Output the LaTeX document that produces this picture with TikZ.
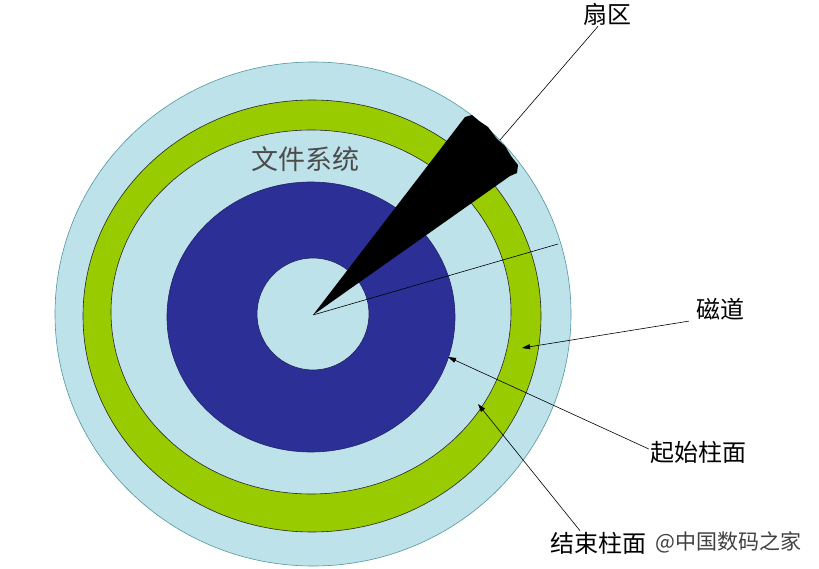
\documentclass[tikz,border=0pt]{standalone}
\usepackage{fontspec}
\newfontfamily\cjk{Noto Sans CJK SC}
\usetikzlibrary{arrows.meta}
\definecolor{disklight}{RGB}{190,226,234}
\definecolor{diskgreen}{RGB}{153,204,0}
\definecolor{diskblue}{RGB}{44,48,150}
\definecolor{diskedge}{RGB}{80,150,160}
\colorlet{labelgrey}{white!25!black}

\begin{document}
\begin{tikzpicture}[
    x=1pt, y=-1pt,
    every node/.style={font=\cjk\fontsize{24}{28}\selectfont, inner sep=1pt},
    ring/.style={draw=black!85, line width=0.6pt},
    c/.style={draw=black, line width=0.6pt},
    a/.style={c, -{Triangle[length=8pt,width=5pt]}}
]
\useasboundingbox (0,0) rectangle (819,569);

\coordinate (hub) at (313,315);

% platter rings
\filldraw [fill=disklight, draw=diskedge, line width=0.6pt]
    (313,314) ellipse [x radius=258, y radius=252];
\filldraw [fill=diskgreen, ring] (312,316) ellipse [x radius=229, y radius=216];
\filldraw [fill=disklight, ring] (311,312) ellipse [x radius=200, y radius=182];
\filldraw [fill=diskblue, draw=diskblue!70!black, line width=0.6pt]
    (311,317) ellipse [x radius=144, y radius=135];
\filldraw [fill=disklight, draw=diskblue!60!black, line width=0.6pt]
    (313,314) ellipse [x radius=56, y radius=56];

% sector wedge
\fill [black] (hub) -- (465,117) -- (472,115) -- (479,121) -- (488,127)
    -- (497,139) -- (505,146) -- (511,156) -- (518,165) -- (517,173)
    -- (510,176) -- cycle;

\node [text=black!70, font=\cjk\fontsize{27}{30}\selectfont] (fs) at (305,159) {文件系统};

\node (sector)   at (607,14)  {扇区};
\node (track)    at (720,309) {磁道};
\node (startcyl) at (698,452) {起始柱面};
\node (endcyl)   at (598,543) {结束柱面};
\node [anchor=west, text=labelgrey, font=\cjk\fontsize{21}{24}\selectfont]
    (mark) at (654,542) {@中国数码之家};

\coordinate (sectorpt) at (500,140);
\coordinate (rim)      at (558,244);
\coordinate (trackpt)  at (522,348);
\coordinate (startpt)  at (448,357);
\coordinate (endpt)    at (478,404);

\draw [c] ([xshift=-9pt]sector.south) -- (sectorpt);
\draw [c] (hub) -- (rim);
\draw [a] ([xshift=-6pt]track.south west) -- (trackpt);
\draw [a] ([yshift=3pt]startcyl.west) -- (startpt);
\draw [a] ([xshift=-18pt]endcyl.north) -- (endpt);

\end{tikzpicture}
\end{document}
